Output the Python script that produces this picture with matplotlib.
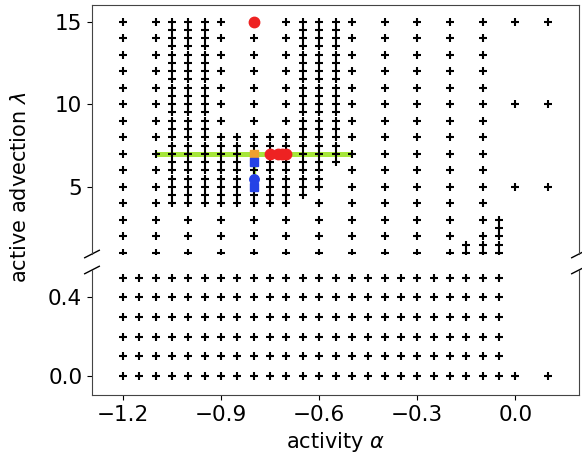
import numpy as np
import matplotlib
matplotlib.use("Agg")
import matplotlib.pyplot as plt

# Sampled (alpha, lambda) grid: for each activity value, the list of
# lambda segments (start, stop, step) that were simulated.
upper_columns = {
    -1.20: [(1, 15, 1)],
    -1.10: [(1, 15, 1)],
    -1.05: [(4, 15, 0.5)],
    -1.00: [(4, 15, 0.5), (1, 3, 1)],
    -0.95: [(4, 15, 0.5)],
    -0.90: [(9, 15, 1), (4, 8, 0.5), (1, 3, 1)],
    -0.85: [(4, 8, 0.5)],
    -0.80: [(9, 15, 1), (4, 8, 0.5), (1, 3, 1)],
    -0.75: [(4, 8, 0.5)],
    -0.70: [(9, 15, 1), (4, 8, 0.5), (1, 3, 1)],
    -0.65: [(4.5, 15, 0.5)],
    -0.60: [(5, 15, 0.5), (1, 4, 1)],
    -0.55: [(6.5, 15, 0.5)],
    -0.50: [(1, 15, 1)],
    -0.40: [(1, 15, 1)],
    -0.30: [(1, 15, 1)],
    -0.20: [(1, 15, 1)],
    -0.15: [(1, 1.5, 0.5)],
    -0.10: [(1, 15, 1), (1.5, 1.5, 1)],
    -0.05: [(1, 3, 0.5)],
    0.00: [(5, 15, 5)],
    0.10: [(5, 15, 5)],
}

lower_alpha = [-1.20, -1.15, -1.10, -1.05, -1.00, -0.95, -0.90, -0.85,
               -0.80, -0.75, -0.70, -0.65, -0.60, -0.55, -0.50, -0.45,
               -0.40, -0.35, -0.30, -0.25, -0.20, -0.15, -0.10, -0.05]
lower_lambda = [0.0, 0.1, 0.2, 0.3, 0.4, 0.5]
lower_extra_alpha = [0.0, 0.1]
lower_extra_lambda = [0.0, 0.0]

# Highlighted states
red_alpha = [-0.80, -0.75, -0.725, -0.7125, -0.70]
red_lambda = [15, 7, 7, 7, 7]
orange_alpha = [-0.80]
orange_lambda = [7]
blue_sq_alpha = [-0.80, -0.80]
blue_sq_lambda = [6.5, 5]
blue_ci_alpha = [-0.80]
blue_ci_lambda = [5.5]
green_h_alpha = [-1.10, -0.50]
green_h_lambda = [7, 7]
green_v_alpha = [-0.80, -0.80]
green_v_lambda = [7, 5]

xticks = [-1.2, -0.9, -0.6, -0.3, 0.0]
upper_yticks = [5, 10, 15]
lower_yticks = [0.0, 0.4]


def expand(segments):
    vals = []
    for a, b, s in segments:
        n = int(round((b - a) / s)) + 1
        vals.extend([a + i * s for i in range(n)])
    return vals


up_x, up_y = [], []
for alpha, segs in upper_columns.items():
    lams = expand(segs)
    up_x.extend([alpha] * len(lams))
    up_y.extend(lams)

lo_x = [a for a in lower_alpha for _ in lower_lambda] + lower_extra_alpha
lo_y = [l for _ in lower_alpha for l in lower_lambda] + lower_extra_lambda

W, H = 582, 455
fig = plt.figure(figsize=(W / 100, H / 100), dpi=100)
left, right = 92 / W, 579 / W
ax_top = fig.add_axes([left, 1 - 254 / H, right - left, (254 - 5) / H])
ax_bot = fig.add_axes([left, 1 - 395 / H, right - left, (395 - 270) / H])

TICK_FS = 15.5
LABEL_FS = 15
plus_kw = dict(marker="+", color="black", ms=5.5, mew=1.5, ls="none", zorder=2)

ax_top.plot(up_x, up_y, **plus_kw)
ax_bot.plot(lo_x, lo_y, **plus_kw)

green = "#a6e63a"
ax_top.plot(green_h_alpha, green_h_lambda, color=green, lw=3.6, zorder=1.5,
            solid_capstyle="butt")
ax_top.plot(green_v_alpha, green_v_lambda, color=green, lw=2.4, zorder=1.5)
ax_top.plot(orange_alpha, orange_lambda, "s", color="#eea030", ms=6.3,
            zorder=4)
ax_top.plot(blue_sq_alpha, blue_sq_lambda, "s", color="#2442e6", ms=6.3,
            zorder=4)
ax_top.plot(blue_ci_alpha, blue_ci_lambda, "o", color="#2442e6", ms=6.8,
            zorder=4)
ax_top.plot(red_alpha, red_lambda, "o", color="#ee2222", ms=7.5,
            zorder=5)

xlim = (-1.295, 0.195)
ax_top.set_xlim(*xlim)
ax_bot.set_xlim(*xlim)
ax_top.set_ylim(0.94, 16.0)
ax_bot.set_ylim(-0.097, 0.54)

ax_top.spines["bottom"].set_visible(False)
ax_bot.spines["top"].set_visible(False)
ax_top.tick_params(axis="x", which="both", bottom=False, labelbottom=False)
ax_top.set_yticks(upper_yticks)
ax_bot.set_yticks(lower_yticks)
ax_bot.set_xticks(xticks)
ax_bot.set_yticklabels(["0.0", "0.4"])
ax_bot.set_xticklabels(["\u22121.2", "\u22120.9", "\u22120.6", "\u22120.3", "0.0"])
for ax in (ax_top, ax_bot):
    ax.tick_params(labelsize=TICK_FS)
    for sp in ax.spines.values():
        sp.set_color("#444444")

# Break marks on both sides of the gap
d = 0.015
kw = dict(transform=ax_top.transAxes, color="k", clip_on=False, lw=1)
ax_top.plot((-d, +d), (-d, +d), **kw)
ax_top.plot((1 - d, 1 + d), (-d, +d), **kw)
kw.update(transform=ax_bot.transAxes)
dy = d * 249 / 125
ax_bot.plot((-d, +d), (1 - dy, 1 + dy), **kw)
ax_bot.plot((1 - d, 1 + d), (1 - dy, 1 + dy), **kw)

ax_bot.set_xlabel(r"activity $\alpha$", fontsize=LABEL_FS)
fig.text(0.035, 1 - 187 / H, r"active advection $\lambda$", rotation=90,
         ha="center", va="center", fontsize=LABEL_FS)

fig.savefig("out.png", dpi=100)
